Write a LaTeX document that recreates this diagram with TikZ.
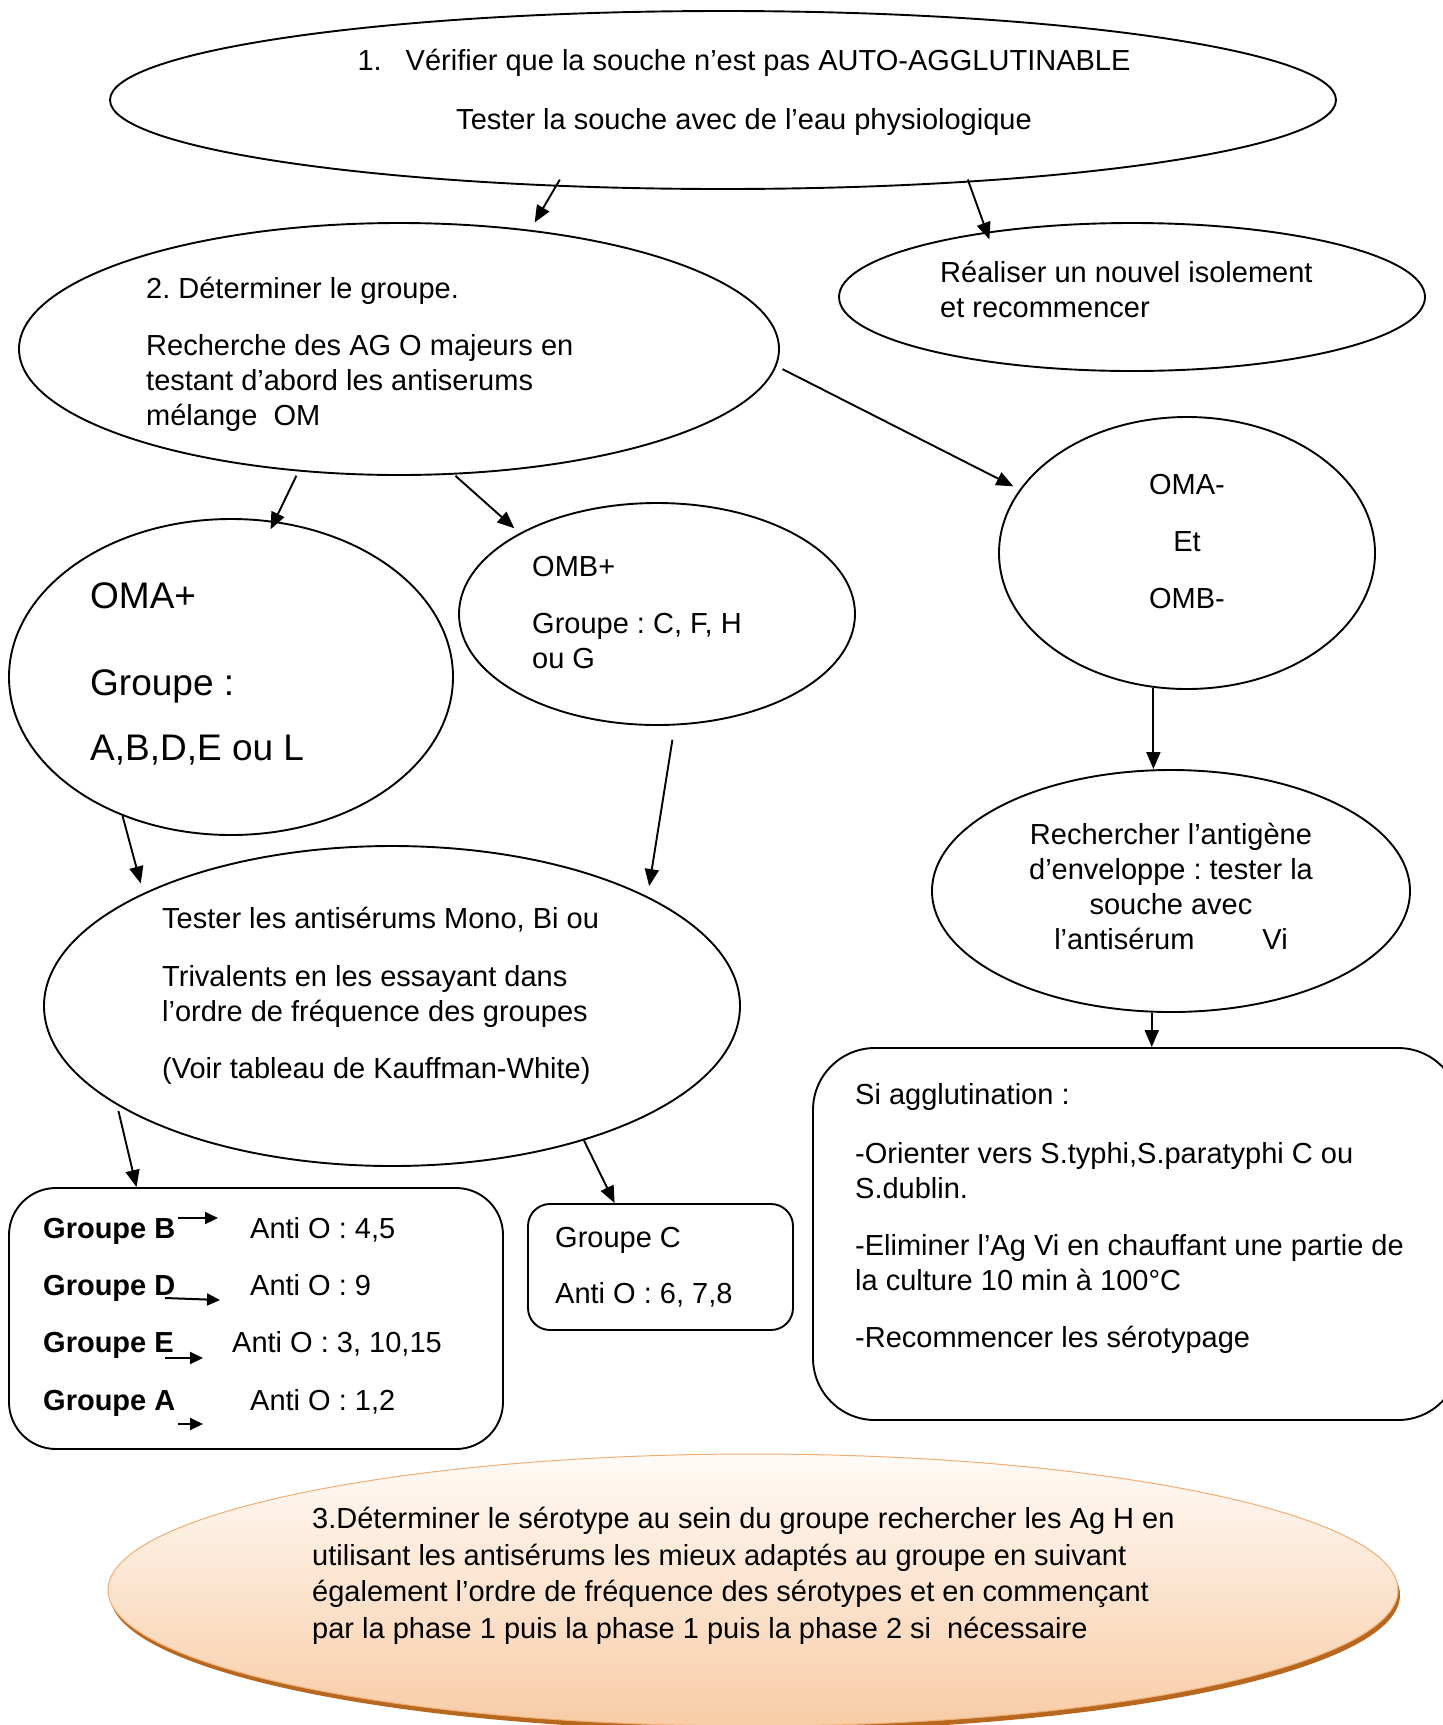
\documentclass[tikz,border=0pt]{standalone}
\usepackage{fontspec}
\setmainfont{Liberation Sans}
\usetikzlibrary{shapes.geometric,arrows.meta,calc}
\definecolor{peach}{HTML}{F8CCA6}
\definecolor{peachtop}{HTML}{FFFBF7}
\definecolor{peachedge}{HTML}{F0AE74}
\definecolor{shadowbrown}{HTML}{B8671F}
\tikzset{
  ell/.style={draw, ellipse, line width=1.9pt, inner sep=0pt},
  rbox/.style={draw, rectangle, line width=1.9pt, inner sep=0pt},
  arr/.style={line width=1.9pt, -{Triangle[length=17pt,width=14pt]}},
  smallarr/.style={line width=2pt, -{Triangle[length=13pt,width=12pt]}},
  txt/.style={font=\fontsize{29}{35}\selectfont, inner sep=0pt, align=left},
  bigtxt/.style={font=\fontsize{37}{44}\selectfont, inner sep=0pt, align=left},
  boldtxt/.style={font=\fontsize{29}{35}\selectfont\bfseries, inner sep=0pt}
}
\begin{document}
\frenchspacing
\begin{tikzpicture}[x=1pt,y=-1pt]
\useasboundingbox (0,0) rectangle (1443,1725);
\fill[white] (0,0) rectangle (1443,1725);
\begin{scope}
\clip (0,0) rectangle (1443,1725);
% ellipses
\node[ell, minimum width=1226pt, minimum height=178pt] (top) at (723,100) {};
\node[ell, minimum width=760pt, minimum height=252pt] (grp) at (399,349) {};
\node[ell, minimum width=586pt, minimum height=148pt] (real) at (1132,297) {};
\node[ell, minimum width=376pt, minimum height=272pt] (omam) at (1187,553) {};
\node[ell, minimum width=478pt, minimum height=242pt] (rech) at (1171,891) {};
\node[ell, minimum width=444pt, minimum height=316pt] (omap) at (231,677) {};
\node[ell, minimum width=396pt, minimum height=222pt] (omb) at (657,614) {};
\node[ell, minimum width=696pt, minimum height=320pt] (test) at (392,1006) {};
% boxes
\node[rbox, rounded corners=47pt, minimum width=494pt, minimum height=261pt] (gb) at (256,1318.5) {};
\node[rbox, rounded corners=22pt, minimum width=265pt, minimum height=126pt] (gc) at (660.5,1267) {};
\node[rbox, rounded corners=62pt, minimum width=647pt, minimum height=372pt] (si) at (1136.5,1234) {};
% bottom ellipse
\node[ellipse, fill=shadowbrown, inner sep=0pt, minimum width=1290pt, minimum height=272pt] (botsh) at (755,1595) {};
\node[ellipse, top color=peachtop, bottom color=peach, draw=peachedge, line width=1pt, inner sep=0pt, minimum width=1290pt, minimum height=272pt] (bot) at (753,1590) {};
\end{scope}
% texts (anchor base = baseline of the last line)
\node[txt, align=center, anchor=base] (ttop) at (744,129) {1.\hspace{24pt}Vérifier que la souche n’est pas AUTO-AGGLUTINABLE\\[24pt]Tester la souche avec de l’eau physiologique};
\node[txt, anchor=base west] (tgrp) at (146,425) {2. Déterminer le groupe.\\[22pt]Recherche des AG O majeurs en\\testant d’abord les antiserums\\mélange\ \ OM};
\node[txt, anchor=base west] (treal) at (940,317) {Réaliser un nouvel isolement\\et recommencer};
\node[txt, align=center, anchor=base] (tomam) at (1187,608) {OMA-\\[22pt]Et\\[22pt]OMB-};
\node[txt, align=center, anchor=base] (trech) at (1171,949) {Rechercher l’antigène\\d’enveloppe : tester la\\souche avec\\l’antisérum\hspace{68pt}Vi};
\node[bigtxt, anchor=base west] (tomap) at (90,760) {OMA+\\[43pt]Groupe :\\[21pt]A,B,D,E ou L};
\node[txt, anchor=base west] (tomb) at (532,668) {OMB+\\[22pt]Groupe : C, F, H\\ou G};
\node[txt, anchor=base west] (ttest) at (162,1078) {Tester les antisérums Mono, Bi ou\\[23pt]Trivalents en les essayant dans\\l’ordre de fréquence des groupes\\[22pt](Voir tableau de Kauffman-White)};
\node[txt, anchor=base west] (tsi) at (855,1347) {Si agglutination :\\[24pt]-Orienter vers S.typhi,S.paratyphi C ou\\S.dublin.\\[22pt]-Eliminer l’Ag Vi en chauffant une partie de\\la culture 10 min à 100°C\\[22pt]-Recommencer les sérotypage};
\node[txt, anchor=base west] (tgc) at (555,1303) {Groupe C\\[21pt]Anti O : 6, 7,8};
\node[txt, anchor=base west, font=\fontsize{29}{36.5}\selectfont] (tbot) at (312,1638) {3.Déterminer le sérotype au sein du groupe rechercher les Ag H en\\utilisant les antisérums les mieux adaptés au groupe en suivant\\également l’ordre de fréquence des sérotypes et en commençant\\par la phase 1 puis la phase 1 puis la phase 2 si\ \ nécessaire};
% groupe table
\node[boldtxt, anchor=base west] (gB) at (43,1238) {Groupe B};
\node[boldtxt, anchor=base west] (gD) at (43,1295) {Groupe D};
\node[boldtxt, anchor=base west] (gE) at (43,1352) {Groupe E};
\node[boldtxt, anchor=base west] (gA) at (43,1410) {Groupe A};
\node[txt, anchor=base west] (aB) at (250,1238) {Anti O : 4,5};
\node[txt, anchor=base west] (aD) at (250,1295) {Anti O : 9};
\node[txt, anchor=base west] (aE) at (232,1352) {Anti O : 3, 10,15};
\node[txt, anchor=base west] (aA) at (250,1410) {Anti O : 1,2};
\coordinate (bB1) at (178,1218); \coordinate (bB2) at (218,1218);
\coordinate (bD1) at (165,1298); \coordinate (bD2) at (220,1300);
\coordinate (bE1) at (165,1358); \coordinate (bE2) at (203,1358);
\coordinate (bA1) at (178,1424); \coordinate (bA2) at (203,1424);
\draw[smallarr] (bB1) -- (bB2);
\draw[smallarr] (bD1) -- (bD2);
\draw[smallarr] (bE1) -- (bE2);
\draw[smallarr] (bA1) -- (bA2);
% connectors
\draw[arr] ($(top.center)!0.924!(top.206.6)$) -- ($(grp.center)!1.058!(grp.43.9)$);
\draw[arr] ($(top.center)!0.97!(top.-18.2)$) -- ($(real.center)!0.909!(real.158)$);
\draw[arr] ($(grp.center)!1.019!(grp.-3.8)$) -- ($(omam.center)!1.04!(omam.159.1)$);
\draw[arr] ($(grp.center)!1.034!(grp.231.6)$) -- ($(omap.center)!0.946!(omap.75.5)$);
\draw[arr] ($(grp.center)!1.01!(grp.-66.4)$) -- ($(omb.center)!1.049!(omb.149.7)$);
\draw[arr] (omap.232.4) -- ($(test.center)!1.048!(test.154.8)$);
\draw[arr] ($(omb.center)!1.126!(omb.-83.6)$) -- ($(test.center)!1.048!(test.25.2)$);
\draw[arr] (omam.256.1) -- (omam.256.1 |- rech.north);
\draw[arr] (rech.261.5) -- (rech.261.5 |- si.north);
\draw[arr] ($(test.center)!1.02!(test.201.8)$) -- ($(gb.north west)!0.259!(gb.north east)$);
\draw[arr] (test.-35.1) -- ($(gc.north west)!0.328!(gc.north east)$);
\end{tikzpicture}
\end{document}
